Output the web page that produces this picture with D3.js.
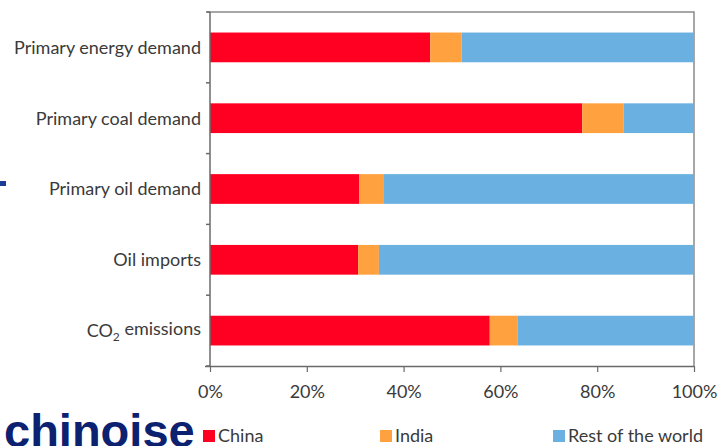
<!DOCTYPE html>
<html>
<head>
<meta charset="utf-8">
<script src="https://cdn.jsdelivr.net/npm/d3@7"></script>
<style>
  html, body { margin: 0; padding: 0; background: #fff; }
  svg { display: block; }
  text { font-family: Lato, "Open Sans", sans-serif; fill: #3a3a3a; }
</style>
</head>
<body>
<svg id="chart" width="721" height="446"></svg>
<script>
// Share of each indicator (%)
const categories = ["Primary energy demand", "Primary coal demand", "Primary oil demand", "Oil imports", "CO2 emissions"];
const china = [45.5, 76.9, 30.8, 30.6, 57.8];
const india = [6.5, 8.6, 5.0, 4.3, 5.7];
const rest  = [48.0, 14.5, 64.2, 65.1, 36.5];
const seriesNames = ["China", "India", "Rest of the world"];
const xTicks = [0, 20, 40, 60, 80, 100];

const colors = { "China": "#ff0022", "India": "#ffa13f", "Rest of the world": "#6ab1e1" };

const svg = d3.select("#chart");
const plot = { left: 210, right: 694, top: 12, bottom: 366 };

const rows = categories.map((c, i) => ({ cat: c, "China": china[i], "India": india[i], "Rest of the world": rest[i] }));
const stacked = d3.stack().keys(seriesNames)(rows);

const x = d3.scaleLinear().domain([0, 100]).range([plot.left, plot.right]);
const y = d3.scaleBand().domain(categories).range([plot.top, plot.bottom]).paddingInner(0.58).paddingOuter(0.29);
const yOuter = d3.scaleBand().domain(categories).range([plot.top, plot.bottom]);

// frame: top and right borders
svg.append("path")
  .attr("d", `M${plot.left - 3},${plot.top}H${plot.right}V${plot.bottom}`)
  .attr("fill", "none").attr("stroke", "#8a8a8a").attr("stroke-width", 1.5);

// bars
svg.append("g").selectAll("g").data(stacked).join("g")
  .attr("fill", d => colors[d.key])
  .selectAll("rect").data(d => d).join("rect")
  .attr("x", d => x(d[0]))
  .attr("width", d => x(d[1]) - x(d[0]))
  .attr("y", d => y(d.data.cat))
  .attr("height", y.bandwidth());

// left axis: line with ticks at the category boundaries
const boundaries = categories.map(c => yOuter(c)).concat([plot.bottom]);
const gLeft = svg.append("g");
gLeft.append("line")
  .attr("x1", plot.left).attr("x2", plot.left)
  .attr("y1", plot.top).attr("y2", plot.bottom)
  .attr("stroke", "#6a6a6a").attr("stroke-width", 1.5);
gLeft.selectAll("line.tk").data(boundaries).join("line")
  .attr("class", "tk")
  .attr("x1", plot.left - 4).attr("x2", plot.left)
  .attr("y1", d => d).attr("y2", d => d)
  .attr("stroke", "#6a6a6a").attr("stroke-width", 1.5);

// category labels
const labels = svg.append("g").selectAll("text").data(categories).join("text")
  .attr("x", plot.left - 9)
  .attr("y", d => y(d) + y.bandwidth() / 2)
  .attr("dy", "0.35em")
  .attr("text-anchor", "end")
  .style("font-size", "18px");
labels.each(function (d) {
  const t = d3.select(this);
  if (d === "CO2 emissions") {
    t.append("tspan").text("CO");
    t.append("tspan").text("2").attr("dy", "0.3em").style("font-size", "12px");
    t.append("tspan").text(" emissions").attr("dy", "-0.3em");
  } else {
    t.text(d);
  }
});

// bottom axis
const xAxis = d3.axisBottom(x).tickValues(xTicks).tickSize(6).tickPadding(13).tickFormat(d => d + "%");
const gx = svg.append("g").attr("transform", `translate(0,${plot.bottom})`).call(xAxis);
gx.select(".domain").attr("d", `M${plot.left - 5},0.5H${plot.right}`).attr("stroke", "#6a6a6a").attr("stroke-width", 1.5);
gx.selectAll(".tick line").attr("stroke", "#6a6a6a").attr("stroke-width", 1.2);
gx.selectAll(".tick text").style("font-size", "18px").style("font-family", "Lato, sans-serif").attr("fill", "#3a3a3a");

// legend
const legendX = [203, 380, 553];
const lg = svg.append("g").selectAll("g").data(seriesNames).join("g")
  .attr("transform", (d, i) => `translate(${legendX[i]},430)`);
lg.append("rect").attr("width", 12).attr("height", 12).attr("fill", d => colors[d]);
lg.append("text").attr("x", 15).attr("y", 12).style("font-size", "18px").text(d => d);

// heading word along the bottom edge
svg.append("text")
  .attr("x", 4).attr("y", 447)
  .style("font-family", "'Liberation Sans', Arial, sans-serif")
  .style("font-weight", "bold").style("font-size", "47px")
  .style("fill", "#0c2170")
  .text("chinoise");

// small marker at the left edge
svg.append("rect").attr("x", 0).attr("y", 181).attr("width", 6).attr("height", 5).attr("fill", "#1b3c94");
</script>
</body>
</html>
